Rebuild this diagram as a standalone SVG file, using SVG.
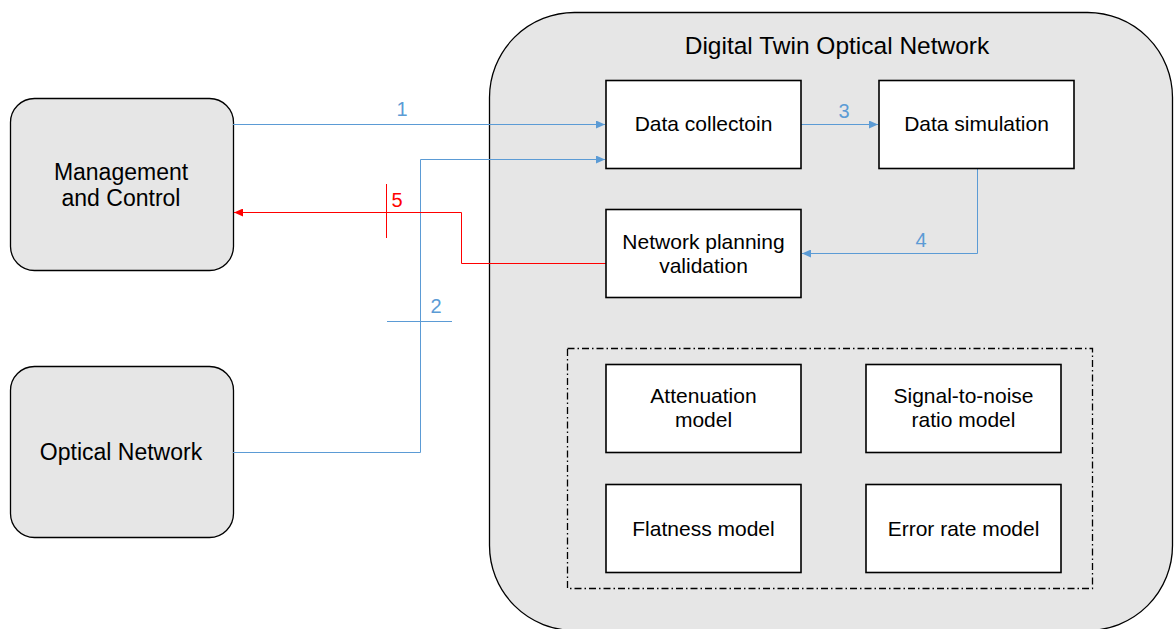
<svg xmlns="http://www.w3.org/2000/svg" width="1174" height="629" viewBox="0 0 1174 629">
<style>
text{font-family:"Liberation Sans",Arial,sans-serif;fill:#000;text-anchor:middle}
.title{font-size:24.5px}
.big{font-size:23px}
.box{font-size:21px}
.lbl{font-size:20px}
.blue{fill:#5B9BD5}
.redt{fill:#FF0000}
.grey{fill:#E6E6E6;stroke:#000;stroke-width:1.3}
.wbox{fill:#FFF;stroke:#000;stroke-width:1.6}
.cb{fill:none;stroke:#5B9BD5;stroke-width:1}
.cr{fill:none;stroke:#FF0000;stroke-width:1}
</style>
<defs>
<marker id="ab" markerWidth="9" markerHeight="8" refX="9" refY="4" orient="auto" markerUnits="userSpaceOnUse"><path d="M0,0 L9,4 L0,8 Z" fill="#5B9BD5"/></marker>
<marker id="ar" markerWidth="9" markerHeight="8" refX="9" refY="4" orient="auto" markerUnits="userSpaceOnUse"><path d="M0,0 L9,4 L0,8 Z" fill="#FF0000"/></marker>
</defs>
<rect width="1174" height="629" fill="#FFF"/>
<g id="digital-twin">
<rect class="grey" x="489.5" y="12.5" width="683" height="618" rx="85" ry="85"/>
<text class="title" x="837" y="54">Digital Twin Optical Network</text>
</g>
<g id="management">
<rect class="grey" x="10.5" y="98.5" width="223" height="172" rx="24" ry="24"/>
<text class="big" x="121" y="179.5">Management</text>
<text class="big" x="121" y="205.5">and Control</text>
</g>
<g id="optical-network">
<rect class="grey" x="10.5" y="366.5" width="223" height="171" rx="24" ry="24"/>
<text class="big" x="121" y="460">Optical Network</text>
</g>
<g id="models-group">
<rect x="567.5" y="348.5" width="525" height="240" fill="none" stroke="#000" stroke-width="1.3" stroke-dasharray="7,3,1.5,3"/>
</g>
<g id="connectors">
<path class="cb" d="M233,124.5 H605" marker-end="url(#ab)"/>
<path class="cb" d="M233,452.5 H420.5 V159.5 H605" marker-end="url(#ab)"/>
<path class="cb" d="M387,321.5 H452"/>
<path class="cb" d="M801,124.5 H878" marker-end="url(#ab)"/>
<path class="cb" d="M977.5,168 V253.5 H802" marker-end="url(#ab)"/>
<path class="cr" d="M606,263.5 H461.5 V212.5 H234" marker-end="url(#ar)"/>
<path class="cr" d="M386.5,184 V238"/>
<text class="lbl blue" x="402" y="116">1</text>
<text class="lbl blue" x="436" y="313">2</text>
<text class="lbl blue" x="844" y="118">3</text>
<text class="lbl blue" x="921" y="247">4</text>
<text class="lbl redt" x="397" y="207">5</text>
</g>
<g id="data-collection">
<rect class="wbox" x="606" y="80.5" width="195" height="88"/>
<text class="box" x="703.5" y="131">Data collectoin</text>
</g>
<g id="data-simulation">
<rect class="wbox" x="879" y="80.5" width="195" height="88"/>
<text class="box" x="976.5" y="131">Data simulation</text>
</g>
<g id="network-planning">
<rect class="wbox" x="606" y="209.5" width="195" height="88"/>
<text class="box" x="703.5" y="248.5">Network planning</text>
<text class="box" x="703.5" y="272.5">validation</text>
</g>
<g id="attenuation">
<rect class="wbox" x="606" y="364.5" width="195" height="88"/>
<text class="box" x="703.5" y="403">Attenuation</text>
<text class="box" x="703.5" y="427">model</text>
</g>
<g id="snr">
<rect class="wbox" x="866" y="364.5" width="195" height="88"/>
<text class="box" x="963.5" y="403">Signal-to-noise</text>
<text class="box" x="963.5" y="427">ratio model</text>
</g>
<g id="flatness">
<rect class="wbox" x="606" y="484.5" width="195" height="88"/>
<text class="box" x="703.5" y="536">Flatness model</text>
</g>
<g id="error-rate">
<rect class="wbox" x="866" y="484.5" width="195" height="88"/>
<text class="box" x="963.5" y="536">Error rate model</text>
</g>
</svg>
